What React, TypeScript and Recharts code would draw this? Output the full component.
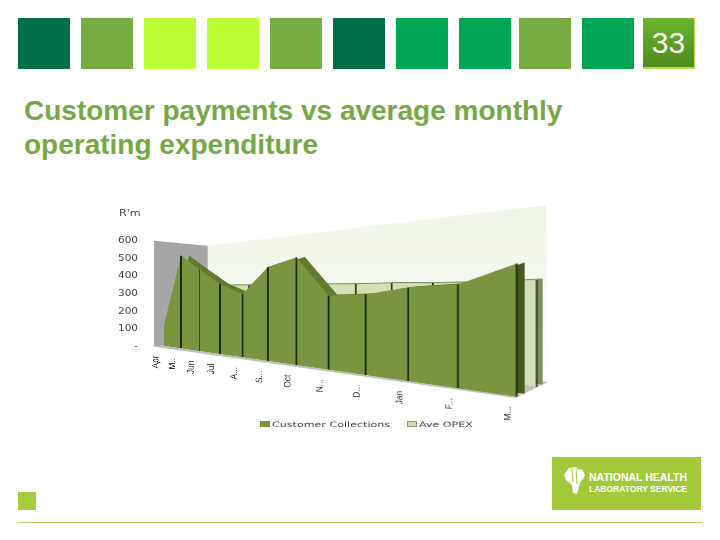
import React from "react";
import { ComposedChart, Area, XAxis, YAxis, Legend } from "recharts";

const months = ["Apr", "May", "Jun", "Jul", "Aug", "Sep", "Oct", "Nov", "Dec", "Jan", "Feb", "Mar"];
const monthLabels = ["Apr", "M..", "Jun", "Jul", "A...", "S...", "Oct", "N...", "D...", "Jan", "F...", "M..."];
const collections = [120, 487, 408, 332, 284, 400, 431, 278, 282, 305, 312, 367];
const avgOpex = [335, 335, 340, 340, 340, 345, 345, 346, 350, 350, 352, 360];
const valueTicks = [0, 100, 200, 300, 400, 500, 600];
const legendNames = ["Customer Collections", "Ave OPEX"];
const legendColors = ["#7a9440", "#cfdcae"];
const headerColors = ["#006e47", "#77ad42", "#bdfb35", "#bdfb35", "#77ad42", "#006e47", "#00a651", "#00a651", "#77ad42", "#00a651"];
const headerLefts = [18, 81, 144, 207, 270, 333, 396, 459, 519, 582];

const rows = months.map((m, i) => ({
  month: m,
  label: monthLabels[i],
  collections: collections[i],
  opex: avgOpex[i],
}));

// local plot rectangle every plane is drawn in, before the perspective warp
const LOCAL = { x: 60, y: 10, w: 600, h: 300 };
const PLANE_W = 680;
const PLANE_H = 400;
type Pt = [number, number];
type Quad = [Pt, Pt, Pt, Pt]; // top-left, top-right, bottom-right, bottom-left

function homography(q: Quad) {
  const [[x0, y0], [x1, y1], [x2, y2], [x3, y3]] = q;
  const dx1 = x1 - x2, dx2 = x3 - x2, sx = x0 - x1 + x2 - x3;
  const dy1 = y1 - y2, dy2 = y3 - y2, sy = y0 - y1 + y2 - y3;
  const den = dx1 * dy2 - dx2 * dy1;
  const g = (sx * dy2 - dx2 * sy) / den;
  const h = (dx1 * sy - sx * dy1) / den;
  const a = (x1 - x0 + g * x1) / LOCAL.w, b = (x3 - x0 + h * x3) / LOCAL.h;
  const d = (y1 - y0 + g * y1) / LOCAL.w, e = (y3 - y0 + h * y3) / LOCAL.h;
  const gg = g / LOCAL.w, hh = h / LOCAL.h;
  const c = x0 - a * LOCAL.x - b * LOCAL.y;
  const f = y0 - d * LOCAL.x - e * LOCAL.y;
  const i = 1 - gg * LOCAL.x - hh * LOCAL.y;
  return { a, b, c, d, e, f, g: gg, h: hh, i };
}
type Homo = ReturnType<typeof homography>;

function toCss(m: Homo) {
  return `matrix3d(${m.a},${m.d},0,${m.g},${m.b},${m.e},0,${m.h},0,0,1,0,${m.c},${m.f},0,${m.i})`;
}

function project(m: Homo, x: number, y: number): Pt {
  const w = m.g * x + m.h * y + m.i;
  return [(m.a * x + m.b * y + m.c) / w, (m.d * x + m.e * y + m.f) / w];
}

// svg matrix that undoes the warp at this spot, so text keeps a flat look
function unwarp(m: Homo, x: number, y: number) {
  const p = project(m, x, y);
  const px = project(m, x + 1, y);
  const py = project(m, x, y + 1);
  const a = px[0] - p[0], b = px[1] - p[1], c = py[0] - p[0], d = py[1] - p[1];
  const det = a * d - b * c;
  return `matrix(${d / det},${-b / det},${-c / det},${a / det},${x},${y})`;
}

function widthAt(m: Homo, x: number, y: number) {
  return Math.abs(project(m, x + 1, y)[0] - project(m, x, y)[0]);
}

const frontQuad: Quad = [[164.3, 237], [516.7, 179], [516.7, 396.7], [164.3, 345.8]];
const frontDepthQuad: Quad = [[172.3, 237], [524.7, 179], [524.7, 393.7], [172.3, 344.8]];
const opexQuad: Quad = [[194, 246], [536.7, 208.7], [536.7, 386.7], [194, 337]];
const opexDepthQuad: Quad = [[200, 245], [542.7, 207.7], [542.7, 384.7], [200, 336]];

const frontM = homography(frontQuad);
const opexM = homography(opexQuad);

const planeStyle = (m: Homo): React.CSSProperties => ({
  position: "absolute",
  left: 0,
  top: 0,
  width: PLANE_W,
  height: PLANE_H,
  transformOrigin: "0 0",
  transform: toCss(m),
});

const planeMargin = { top: LOCAL.y, right: PLANE_W - LOCAL.x - LOCAL.w, left: LOCAL.x };

function Plane({ quad, children }: { quad: Quad; children: React.ReactNode }) {
  return (
    <div style={planeStyle(homography(quad))}>
      <ComposedChart width={PLANE_W} height={PLANE_H} data={rows} margin={{ ...planeMargin, bottom: 90 }}>
        <XAxis dataKey="month" scale="point" padding={{ left: 0, right: 0 }} hide />
        <YAxis domain={[0, 600]} hide />
        {children}
      </ComposedChart>
    </div>
  );
}

function stemDot(m: Homo, color: string, width: number) {
  return (p: any) => {
    if (p.index === 0) return <g key={p.index} />;
    const thin = p.index === 2;
    return (
      <line
        key={p.index}
        x1={p.cx}
        x2={p.cx}
        y1={p.cy}
        y2={LOCAL.y + LOCAL.h}
        stroke={thin ? "#34491a" : color}
        strokeWidth={(thin ? width * 0.6 : width) / widthAt(m, p.cx, p.cy)}
      />
    );
  };
}

function MonthTick({ x, payload, index }: any) {
  return (
    <g transform={unwarp(frontM, x, LOCAL.y + LOCAL.h)}>
      <text
        transform="translate(-6,10) rotate(-90) scale(0.85,1)"
        textAnchor="end"
        fontFamily="Liberation Sans"
        fontSize={10}
        fill="#333"
      >
        {monthLabels[index]}
      </text>
    </g>
  );
}

function ValueTick({ x, y, payload }: any) {
  const zero = payload.value === 0;
  return (
    <text
      x={x + 6}
      y={y + 3}
      textAnchor="end"
      fontFamily="DejaVu Sans"
      fontSize={8}
      fill="#444"
      textLength={zero ? 4 : 20}
      lengthAdjust="spacingAndGlyphs"
    >
      {zero ? "-" : payload.value}
    </text>
  );
}

function LegendRow() {
  return (
    <div style={{ position: "relative", width: 300, height: 12, fontFamily: "DejaVu Sans", fontSize: 7.5, color: "#444" }}>
      {legendNames.map((n, i) => (
        <div key={n} style={{ position: "absolute", left: i === 0 ? 0 : 147, top: 1, whiteSpace: "nowrap" }}>
          <span
            style={{
              display: "inline-block",
              width: 10,
              height: 6,
              background: legendColors[i],
              border: i === 1 ? "1px solid #8a9a6a" : "none",
              boxSizing: "border-box",
              marginRight: 2,
            }}
          />
          <span style={{ display: "inline-block", transform: "scaleX(1.48)", transformOrigin: "0 50%" }}>{n}</span>
        </div>
      ))}
    </div>
  );
}

export default function App() {
  return (
    <div style={{ position: "absolute", left: 0, top: 0, width: 720, height: 540, overflow: "hidden", background: "#fff" }}>
      {headerColors.map((c, i) => (
        <div key={i} style={{ position: "absolute", left: headerLefts[i], top: 18, width: 52, height: 51, background: c }} />
      ))}
      <div
        style={{
          position: "absolute",
          left: 643,
          top: 18,
          width: 52,
          height: 51,
          boxSizing: "border-box",
          borderRight: "1px solid #b5e04c",
          borderBottom: "2px solid #b5e04c",
          background: "linear-gradient(#6cb52d, #4f8a1f)",
          color: "#fff",
          fontFamily: "Liberation Sans",
          fontSize: 30,
          lineHeight: "50px",
          textAlign: "center",
        }}
      >
        33
      </div>
      <div
        style={{
          position: "absolute",
          left: 24,
          top: 94,
          width: 600,
          fontFamily: "Liberation Sans",
          fontWeight: "bold",
          fontSize: 28,
          lineHeight: "33.5px",
          color: "#76a845",
          whiteSpace: "nowrap",
        }}
      >
        Customer payments vs average monthly
        <br />
        operating expenditure
      </div>

      {/* chart walls and floor */}
      <svg width={720} height={540} style={{ position: "absolute", left: 0, top: 0 }}>
        <defs>
          <linearGradient id="wall" x1="0" y1="0" x2="0" y2="1">
            <stop offset="0" stopColor="#f0f6e6" />
            <stop offset="0.6" stopColor="#f7faf2" />
            <stop offset="1" stopColor="#ffffff" />
          </linearGradient>
        </defs>
        <polygon points="207.7,245.7 546.7,205 546.7,383 207.7,339" fill="url(#wall)" />
        <polygon points="154,240.7 207.7,245.7 207.7,339 154,346.7" fill="#a6a6a6" />
        <polygon points="154,346.7 515,398 548,382 207.7,339" fill="#bcc3b4" />
      </svg>

      <Plane quad={opexDepthQuad}>
        <Area dataKey="opex" fill="#7f8f60" fillOpacity={1} stroke="none" isAnimationActive={false} />
      </Plane>
      <Plane quad={opexQuad}>
        <Area
          dataKey="opex"
          fill="#d3dfb6"
          fillOpacity={1}
          stroke="#b9c994"
          strokeWidth={1}
          isAnimationActive={false}
          dot={stemDot(opexM, "#1d2a10", 1.6)}
        />
      </Plane>
      <Plane quad={frontDepthQuad}>
        <defs>
          <linearGradient id="ledge" x1="0" y1="0" x2="1" y2="0">
            <stop offset="0.975" stopColor="#627930" />
            <stop offset="0.975" stopColor="#47581e" />
          </linearGradient>
        </defs>
        <Area dataKey="collections" fill="url(#ledge)" fillOpacity={1} stroke="none" isAnimationActive={false} />
      </Plane>

      <div style={planeStyle(frontM)}>
        <ComposedChart width={PLANE_W} height={PLANE_H} data={rows} margin={{ ...planeMargin, bottom: 0 }}>
          <XAxis
            dataKey="month"
            scale="point"
            padding={{ left: 0, right: 0 }}
            height={90}
            axisLine={false}
            tickLine={false}
            interval={0}
            tick={<MonthTick />}
          />
          <YAxis domain={[0, 600]} hide />
          <Area
            dataKey="collections"
            name={legendNames[0]}
            fill="#7a9440"
            fillOpacity={1}
            stroke="none"
            isAnimationActive={false}
            dot={stemDot(frontM, "#1b2a10", 1.8)}
          />
        </ComposedChart>
      </div>

      {/* value axis and legend stay flat on the page */}
      <div style={{ position: "absolute", left: 110, top: 230 }}>
        <ComposedChart width={300} height={206} data={rows} margin={{ top: 10, right: 0, left: 0, bottom: 78 }}>
          <XAxis dataKey="month" hide />
          <YAxis
            domain={[0, 600]}
            ticks={valueTicks}
            interval={0}
            width={30}
            axisLine={false}
            tickLine={false}
            tick={<ValueTick />}
          />
          <Area dataKey="opex" fill="none" stroke="none" isAnimationActive={false} />
          <Legend
            content={<LegendRow />}
            wrapperStyle={{ position: "absolute", left: 150, top: 189, width: 300 }}
          />
        </ComposedChart>
      </div>
      <div
        style={{
          position: "absolute",
          left: 119,
          top: 209,
          fontFamily: "DejaVu Sans",
          fontSize: 8,
          color: "#444",
          transform: "scaleX(1.4)",
          transformOrigin: "0 0",
        }}
      >
        R'm
      </div>

      <div style={{ position: "absolute", left: 18, top: 492, width: 18, height: 18, background: "#a4cc3c" }} />
      <div style={{ position: "absolute", left: 18, top: 522, width: 685, height: 1, background: "#b6d36c" }} />
      <div style={{ position: "absolute", left: 552, top: 457, width: 149, height: 53, background: "#a2c93a" }}>
        <svg width={30} height={40} style={{ position: "absolute", left: 11, top: 8 }}>
          <path d="M6 3 L13 2 L16 5 L19 4 L22 10 L20 14 L17 18 L14 29 L10 28 L9 20 L3 15 L1 10 Z" fill="#fff" />
          <path d="M9 3 L10 17 M13 3 L14 19" stroke="#a2c93a" strokeWidth={1} />
        </svg>
        <div style={{ position: "absolute", left: 37, top: 14, color: "#fff", fontFamily: "Liberation Sans", fontWeight: "bold", fontSize: 10.5, whiteSpace: "nowrap" }}>
          NATIONAL HEALTH
        </div>
        <div style={{ position: "absolute", left: 37, top: 27, color: "#fff", fontFamily: "Liberation Sans", fontWeight: "bold", fontSize: 8.5, whiteSpace: "nowrap" }}>
          LABORATORY SERVICE
        </div>
      </div>
    </div>
  );
}
